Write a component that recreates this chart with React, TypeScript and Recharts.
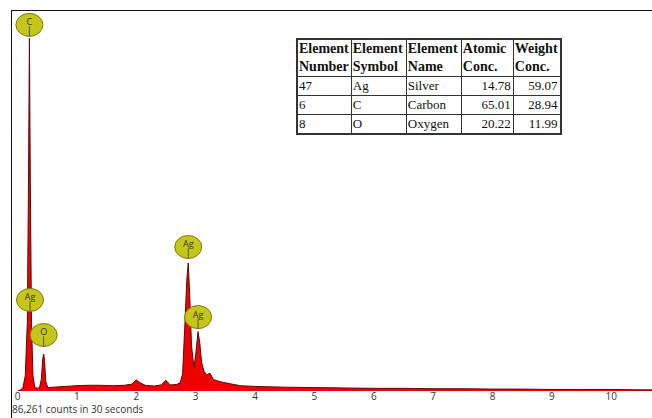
import { ComposedChart, Area, XAxis, YAxis, ReferenceDot } from 'recharts'

// spectrum, keV vs counts (scaled 0..1000)
const energies = [
  0, 0.04, 0.09, 0.13, 0.165, 0.185, 0.2, 0.215, 0.235, 0.26, 0.29, 0.33, 0.37, 0.4, 0.425, 0.44,
  0.455, 0.475, 0.51, 0.6, 0.8, 1.0, 1.2, 1.4, 1.6, 1.8, 1.92, 2.0, 2.06, 2.15, 2.3, 2.42, 2.5,
  2.57, 2.68, 2.74, 2.78, 2.82, 2.85, 2.875, 2.9, 2.93, 2.97, 3.0, 3.04, 3.07, 3.1, 3.14, 3.185,
  3.24, 3.3, 3.38, 3.45, 3.58, 3.75, 4.0, 4.5, 5.0, 5.5, 6.0, 6.5, 7.0, 7.5, 8.0, 8.5, 9.0, 9.5,
  10.0, 10.5, 10.82,
]
const counts = [
  0, 2, 8, 40, 180, 560, 926, 560, 180, 40, 10, 7, 9, 30, 85, 97,
  80, 25, 9, 10, 12, 14, 15, 15, 14, 15, 18, 29, 22, 15, 13, 16, 28,
  16, 17, 22, 45, 180, 290, 336, 250, 120, 62, 95, 156, 125, 75, 52, 42,
  47, 30, 26, 23, 19, 14, 12, 10, 9, 8, 7, 7, 6, 6, 5, 5, 4, 4,
  4, 3, 3,
]

const xTicks = [0, 1, 2, 3, 4, 5, 6, 7, 8, 9, 10]

// peak markers
const labelNames = ['C', 'Ag', 'O', 'Ag', 'Ag']
const labelEnergies = [0.2, 0.21, 0.44, 2.875, 3.04]
const labelCounts = [961, 239, 147, 378, 194]

// composition table
const tableHeader = [
  ['Element', 'Number'],
  ['Element', 'Symbol'],
  ['Element', 'Name'],
  ['Atomic', 'Conc.'],
  ['Weight', 'Conc.'],
]
const elementNumbers = ['47', '6', '8']
const elementSymbols = ['Ag', 'C', 'O']
const elementNames = ['Silver', 'Carbon', 'Oxygen']
const atomicConc = ['14.78', '65.01', '20.22']
const weightConc = ['59.07', '28.94', '11.99']

const data = energies.map((e, i) => ({ keV: e, counts: counts[i] }))

function PeakLabel(props: any) {
  const { cx, cy, name } = props
  if (cx == null || cy == null) return null
  const rx = 13.5
  const ry = 11.5
  return (
    <g>
      <ellipse cx={cx} cy={cy} rx={rx} ry={ry} fill="#c6c61a" stroke="#7a7a08" strokeWidth={1} />
      <text x={cx} y={cy + 0.5} textAnchor="middle" fontSize={9} fontFamily="Open Sans" fill="#333">
        {name}
      </text>
      <line x1={cx} y1={cy + 1.5} x2={cx} y2={cy + ry} stroke="#555" strokeWidth={1} />
    </g>
  )
}

const serif = '"Liberation Serif", "Times New Roman", serif'

const cell = {
  border: '1px solid #333',
  padding: '0 2px 0 1px',
  verticalAlign: 'top' as const,
  fontFamily: serif,
  fontSize: 13,
  lineHeight: '18px',
  color: '#111',
}

export default function App() {
  return (
    <div
      style={{
        position: 'fixed',
        left: 0,
        top: 0,
        width: 652,
        height: 418,
        background: '#fff',
        overflow: 'hidden',
      }}
    >
      <ComposedChart width={660} height={418} data={data} margin={{ top: 10, right: 0, left: 11, bottom: 7 }}>
        <XAxis
          dataKey="keV"
          type="number"
          domain={[-0.11, 10.82]}
          ticks={xTicks}
          allowDataOverflow
          axisLine={false}
          tickLine={false}
          tickSize={0}
          tickMargin={2}
          height={20}
          tick={{ fontSize: 10, fontFamily: 'Open Sans', fill: '#333' }}
        />
        <YAxis type="number" domain={[0, 1000]} hide allowDataOverflow />
        <Area
          type="linear"
          dataKey="counts"
          stroke="#5a0a0a"
          strokeWidth={1}
          fill="#ee0000"
          fillOpacity={1}
          dot={false}
          activeDot={false}
          isAnimationActive={false}
        />
        {labelNames.map((n, i) => (
          <ReferenceDot
            key={i}
            x={labelEnergies[i]}
            y={labelCounts[i]}
            r={12}
            ifOverflow="visible"
            shape={(p: any) => <PeakLabel {...p} name={n} />}
          />
        ))}
      </ComposedChart>

      {/* frame */}
      <div
        style={{
          position: 'absolute',
          left: 11,
          top: 10,
          width: 660,
          height: 420,
          borderLeft: '1px solid #111',
          borderTop: '1px solid #111',
          pointerEvents: 'none',
        }}
      />

      <div
        style={{
          position: 'absolute',
          left: 12,
          top: 403,
          fontSize: 10,
          lineHeight: '12px',
          fontFamily: 'Open Sans',
          color: '#333',
          whiteSpace: 'nowrap',
        }}
      >
        86,261 counts in 30 seconds
      </div>

      <table
        style={{
          position: 'absolute',
          left: 296,
          top: 38,
          borderCollapse: 'collapse',
          border: '2px solid #333',
          background: '#fff',
        }}
      >
        <thead>
          <tr>
            {tableHeader.map((h, i) => (
              <th key={i} style={{ ...cell, fontSize: 14, fontWeight: 'bold', textAlign: 'left', lineHeight: '18px' }}>
                {h[0]}
                <br />
                {h[1]}
              </th>
            ))}
          </tr>
        </thead>
        <tbody>
          {elementNumbers.map((num, i) => (
            <tr key={i}>
              <td style={{ ...cell, width: 49 }}>{num}</td>
              <td style={{ ...cell, width: 51 }}>{elementSymbols[i]}</td>
              <td style={{ ...cell, width: 51 }}>{elementNames[i]}</td>
              <td style={{ ...cell, width: 48, textAlign: 'right' }}>{atomicConc[i]}</td>
              <td style={{ ...cell, width: 40, textAlign: 'right' }}>{weightConc[i]}</td>
            </tr>
          ))}
        </tbody>
      </table>
    </div>
  )
}
